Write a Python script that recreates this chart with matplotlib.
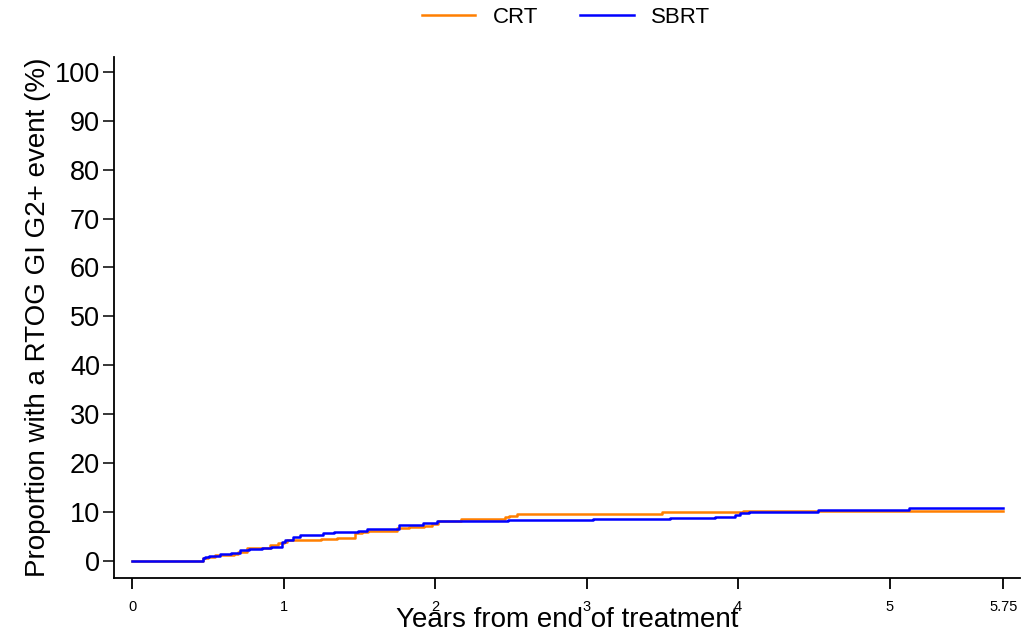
import matplotlib
matplotlib.use("Agg")
import matplotlib.pyplot as plt
from matplotlib import font_manager

# cumulative incidence step curves (years, %)
crt_t = [0, 0.47, 0.50, 0.55, 0.67, 0.70, 0.76, 0.91, 0.96, 1.00, 1.02, 1.09, 1.25,
         1.35, 1.47, 1.52, 1.56, 1.75, 1.83, 1.93, 1.98, 2.02, 2.17, 2.37, 2.46,
         2.49, 2.54, 3.50, 4.03, 5.75]
crt_y = [0, 0.45, 0.8, 1.1, 1.3, 1.8, 2.6, 3.2, 3.5, 3.85, 4.2, 4.3, 4.5,
         4.7, 5.6, 5.9, 6.1, 6.6, 6.8, 7.1, 7.5, 8.0, 8.5, 8.6, 8.9,
         9.2, 9.5, 10.0, 10.2, 10.2]

sbrt_t = [0, 0.47, 0.48, 0.51, 0.58, 0.65, 0.71, 0.77, 0.86, 0.92, 0.99, 1.01, 1.06,
          1.11, 1.26, 1.33, 1.49, 1.55, 1.76, 1.92, 2.01, 2.48, 3.04, 3.55, 3.85,
          3.98, 4.01, 4.07, 4.53, 5.13, 5.75]
sbrt_y = [0, 0.45, 0.65, 1.0, 1.3, 1.6, 2.1, 2.35, 2.6, 2.8, 3.7, 4.2, 4.75,
          5.2, 5.6, 5.8, 6.1, 6.5, 7.3, 7.6, 8.1, 8.3, 8.5, 8.8, 9.0,
          9.3, 9.7, 9.9, 10.3, 10.7, 10.7]

x_ticks = [0, 1, 2, 3, 4, 5, 5.75]
x_tick_labels = ["0", "1", "2", "3", "4", "5", "5.75"]
y_ticks = list(range(0, 101, 10))

plt.rcParams["font.family"] = ["Liberation Sans", "DejaVu Sans"]
names = {f.name for f in font_manager.fontManager.ttflist}
narrow = "Liberation Sans Narrow" if "Liberation Sans Narrow" in names else "Liberation Sans"

fig = plt.figure(figsize=(10.3, 6.36), dpi=100)
ax = fig.add_axes([0.1107, 0.0912, 0.8797, 0.8192])

ax.step(crt_t, crt_y, where="post", color="#FF7F00", linewidth=1.8, label="CRT")
ax.step(sbrt_t, sbrt_y, where="post", color="#0000FF", linewidth=1.8, label="SBRT")

ax.set_xlim(-0.119, 5.861)
ax.set_ylim(-3.58, 103.1)

ax.spines["top"].set_visible(False)
ax.spines["right"].set_visible(False)
ax.spines["left"].set_linewidth(1.3)
ax.spines["bottom"].set_linewidth(1.3)

ax.set_yticks(y_ticks)
ax.tick_params(axis="y", direction="out", length=8, width=1.1, labelsize=19.5, pad=2)
ax.set_xticks(x_ticks)
ax.set_xticklabels(x_tick_labels, fontfamily=narrow)
ax.tick_params(axis="x", direction="out", length=8, width=1.3, labelsize=10.5, pad=8)

ax.set_ylabel("Proportion with a RTOG GI G2+ event (%)", fontsize=20, labelpad=3)
ax.set_xlabel("Years from end of treatment", fontsize=20, fontfamily=narrow, labelpad=-5)

fig.legend(loc="center", bbox_to_anchor=(566 / 1030, 0.973), ncol=2, frameon=False,
           fontsize=16, handlelength=2.4, handletextpad=0.8, columnspacing=1.9)

fig.savefig("out.png", dpi=100)
